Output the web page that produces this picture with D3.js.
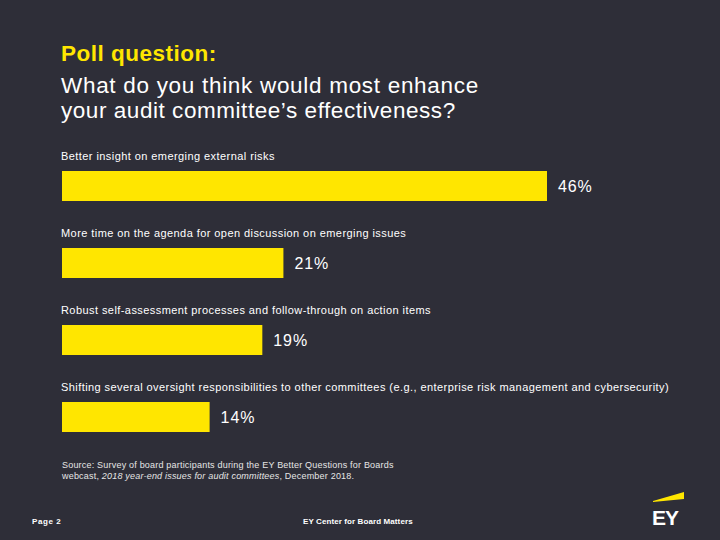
<!DOCTYPE html>
<html><head><meta charset="utf-8">
<script src="https://cdn.jsdelivr.net/npm/d3@7"></script>
<style>html,body{margin:0;padding:0;background:#2e2e38;}svg{display:block;}</style>
</head><body>
<script>
const categories = [
  "Better insight on emerging external risks",
  "More time on the agenda for open discussion on emerging issues",
  "Robust self-assessment processes and follow-through on action items",
  "Shifting several oversight responsibilities to other committees (e.g., enterprise risk management and cybersecurity)"
];
const values = [46, 21, 19, 14];
const valueLabels = ["46%", "21%", "19%", "14%"];

const W = 720, H = 540;
const svg = d3.select("body").append("svg").attr("width", W).attr("height", H);
svg.append("rect").attr("width", W).attr("height", H).attr("fill", "#2e2e38");

const font = "'Liberation Sans', Arial, sans-serif";
const yellow = "#ffe600";

// Title
svg.append("text").attr("x", 61).attr("y", 61).attr("fill", yellow)
  .attr("font-family", font).attr("font-size", 22.5).attr("font-weight", "bold")
  .attr("letter-spacing", 0.5)
  .text("Poll question:");
svg.append("text").attr("x", 61).attr("y", 93).attr("fill", "#fff")
  .attr("font-family", font).attr("font-size", 22.5).attr("letter-spacing", 0.7)
  .text("What do you think would most enhance");
svg.append("text").attr("x", 61).attr("y", 118).attr("fill", "#fff")
  .attr("font-family", font).attr("font-size", 22.5).attr("letter-spacing", 0.55)
  .text("your audit committee’s effectiveness?");

// Scales
const x = d3.scaleLinear().domain([0, 46]).range([62, 547]);
const barTops = d3.scalePoint().domain(d3.range(categories.length)).range([171, 402]);
const barH = 30;

const g = svg.append("g");
const rows = g.selectAll("g.row").data(categories.map((c, i) => ({c, v: values[i], l: valueLabels[i], i})))
  .join("g").attr("class", "row");

rows.append("text")
  .attr("x", 61).attr("y", d => barTops(d.i) - 11)
  .attr("fill", "#fff").attr("font-family", font).attr("font-size", 11)
  .attr("letter-spacing", 0.43)
  .text(d => d.c);

rows.append("rect")
  .attr("x", x(0)).attr("y", d => barTops(d.i))
  .attr("width", d => x(d.v) - x(0)).attr("height", barH)
  .attr("fill", yellow);

rows.append("text")
  .attr("x", d => x(d.v) + 11).attr("y", d => barTops(d.i) + 21)
  .attr("fill", "#fff").attr("font-family", font).attr("font-size", 16)
  .attr("letter-spacing", 0.9)
  .text(d => d.l);

// Source
const src = svg.append("text").attr("fill", "#e6e6e6").attr("font-family", font).attr("font-size", 9)
  .attr("letter-spacing", 0.2);
src.append("tspan").attr("x", 62).attr("y", 468)
  .text("Source: Survey of board participants during the EY Better Questions for Boards");
const l2 = src.append("tspan").attr("x", 62).attr("y", 479);
l2.append("tspan").text("webcast, ");
l2.append("tspan").attr("font-style", "italic").text("2018 year-end issues for audit committees");
l2.append("tspan").text(", December 2018.");

// Footer
svg.append("text").attr("x", 32).attr("y", 524).attr("fill", "#fff")
  .attr("font-family", font).attr("font-size", 8).attr("font-weight", "bold")
  .attr("letter-spacing", 0.6).text("Page 2");
svg.append("text").attr("x", 303).attr("y", 524).attr("fill", "#fff")
  .attr("font-family", font).attr("font-size", 8).attr("font-weight", "bold")
  .attr("letter-spacing", 0.1).text("EY Center for Board Matters");

// EY logo
svg.append("path").attr("d", "M653,501 L684,492 L684,499 L653,502 Z").attr("fill", yellow);
svg.append("text").attr("x", 652).attr("y", 525).attr("fill", "#fff")
  .attr("font-family", font).attr("font-size", 21).attr("font-weight", "bold")
  .attr("letter-spacing", -1).text("EY");
</script>
</body></html>
